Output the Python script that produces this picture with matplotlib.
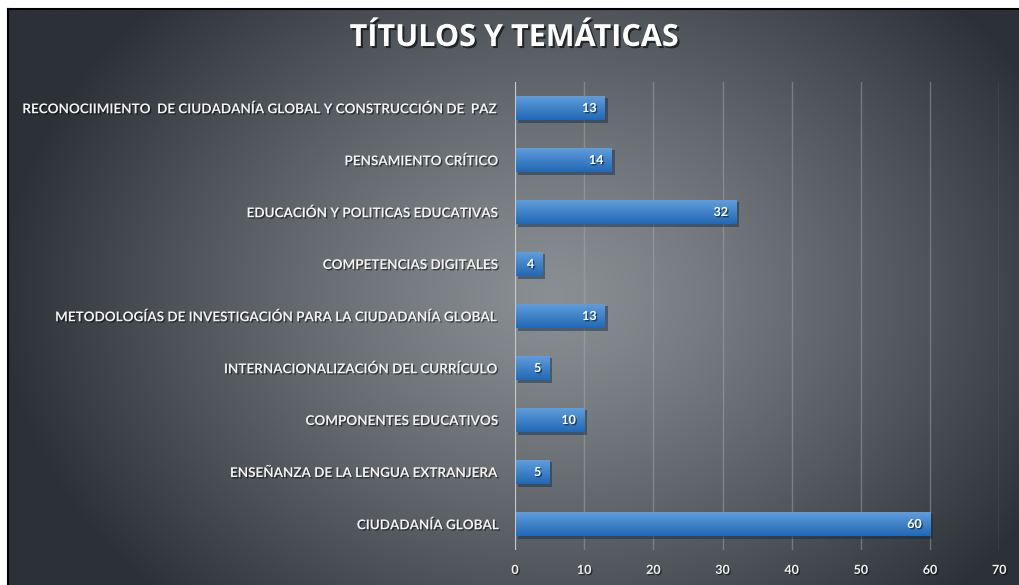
import numpy as np
import matplotlib
matplotlib.use("Agg")
import matplotlib.pyplot as plt
import matplotlib.patheffects as pe

# data (bottom to top)
temas = [
    "CIUDADANÍA GLOBAL",
    "ENSEÑANZA DE LA LENGUA EXTRANJERA",
    "COMPONENTES EDUCATIVOS",
    "INTERNACIONALIZACIÓN DEL CURRÍCULO",
    "METODOLOGÍAS DE INVESTIGACIÓN PARA LA CIUDADANÍA GLOBAL",
    "COMPETENCIAS DIGITALES",
    "EDUCACIÓN Y POLITICAS EDUCATIVAS",
    "PENSAMIENTO CRÍTICO",
    "RECONOCIIMIENTO  DE CIUDADANÍA GLOBAL Y CONSTRUCCIÓN DE  PAZ",
]
valores = [60, 5, 10, 5, 13, 4, 32, 14, 13]
xticks = [0, 10, 20, 30, 40, 50, 60, 70]

W, H = 1019, 585
fig = plt.figure(figsize=(W / 100, H / 100), dpi=100)
fig.patch.set_facecolor("white")

# background panel with radial gradient
bg = fig.add_axes([8 / W, 0, 1 - 8 / W, 1 - 9 / H], zorder=0)
gx, gy = np.meshgrid(np.linspace(0, 1, 400), np.linspace(0, 1, 240))
r = np.sqrt(((gx - 0.54) / 0.55) ** 2 + ((gy - 0.5) / 0.75) ** 2)
t = np.clip(r, 0, 1) ** 1.2
c0 = np.array([138, 143, 148]) / 255
c1 = np.array([44, 49, 55]) / 255
img = c0 * (1 - t[..., None]) + c1 * t[..., None]
bg.imshow(img, extent=[0, 1, 0, 1], aspect="auto", origin="upper")
bg.set_xlim(0, 1)
bg.set_ylim(0, 1)
bg.set_xticks([])
bg.set_yticks([])
for s in ["right", "bottom"]:
    bg.spines[s].set_visible(False)
for s in ["top", "left"]:
    bg.spines[s].set_color("black")
    bg.spines[s].set_linewidth(1.5)

fig.text(514 / W, 1 - 38 / H, "TÍTULOS Y TEMÁTICAS", ha="center", va="center",
         fontsize=22, fontweight="bold", color="white", family="Open Sans",
         path_effects=[pe.withSimplePatchShadow(offset=(1.5, -1.5), shadow_rgbFace="black", alpha=0.6)],
         zorder=5)

ax = fig.add_axes([515 / W, 1 - 550 / H, 484.2 / W, (550 - 82) / H], zorder=2)
ax.patch.set_alpha(0)
y = np.arange(len(temas))
bars = ax.barh(y, valores, height=0.48, color="#3a7fc6", edgecolor="none", zorder=3,
               path_effects=[pe.SimplePatchShadow(offset=(2, -2), alpha=0.45), pe.Normal()])

# vertical gradient on each bar
grad = np.linspace(0, 1, 50)[:, None]
top_c = np.array([98, 160, 222]) / 255
bot_c = np.array([34, 104, 180]) / 255
gimg = top_c * (1 - grad[..., None]) + bot_c * grad[..., None]
for b in bars:
    x0, y0 = b.get_x(), b.get_y()
    im = ax.imshow(gimg, extent=[x0, x0 + b.get_width(), y0, y0 + b.get_height()],
                   aspect="auto", origin="upper", zorder=4)
    im.set_clip_path(b)

ax.set_xlim(0, 70)
ax.set_ylim(-0.5, 8.5)
ax.set_xticks(xticks)
ax.set_yticks(y)
ax.set_yticklabels(temas)
ax.grid(axis="x", color="#a9adb1", linewidth=1, alpha=0.45, zorder=1)
ax.axvline(0, color="#c8cacc", linewidth=1.5, zorder=5)
for s in ax.spines.values():
    s.set_visible(False)
ax.tick_params(length=0)
ax.tick_params(axis="y", pad=11)
ax.tick_params(axis="x", pad=10)
shadow = [pe.withSimplePatchShadow(offset=(1, -1), shadow_rgbFace="black", alpha=0.5)]
for lab in ax.get_yticklabels():
    lab.set_fontsize(9.7)
    lab.set_fontweight("bold")
    lab.set_family("Lato")
    lab.set_color("#f2f2f2")
    lab.set_path_effects(shadow)
for lab in ax.get_xticklabels():
    lab.set_fontsize(9)
    lab.set_fontweight("bold")
    lab.set_family("Lato")
    lab.set_color("#f2f2f2")
    lab.set_path_effects(shadow)

for yi, v in zip(y, valores):
    ax.annotate(str(v), (v, yi), xytext=(-6, 0), textcoords="offset points",
                ha="right", va="center", fontsize=9, fontweight="bold", family="Lato",
                color="white", zorder=6, path_effects=shadow)

fig.savefig("out.png", dpi=100)
